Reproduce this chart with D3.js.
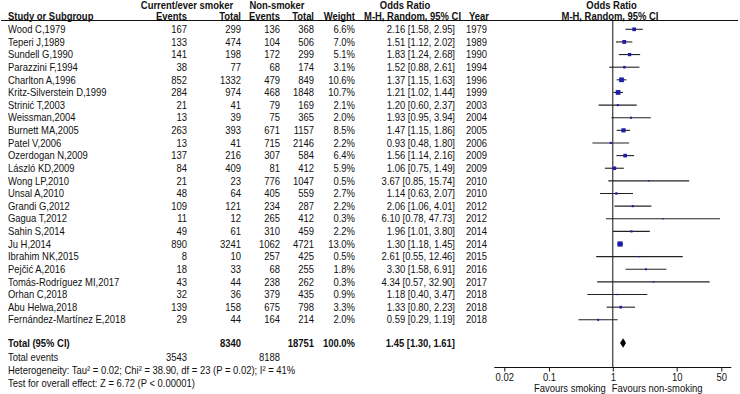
<!DOCTYPE html>
<html>
<head>
<meta charset="utf-8">
<script src="https://cdn.jsdelivr.net/npm/d3@7"></script>
<style>
  body { margin: 0; background: #fff; }
  text { font-family: "Liberation Sans", Arial, sans-serif; fill: #111; }
  .bold { font-weight: bold; }
</style>
</head>
<body>
<div id="forest"></div>
<script>
// Data
const studies = [
    "Wood C,1979", "Teperi J,1989", "Sundell G,1990", "Parazzini F,1994",
    "Charlton A,1996", "Kritz-Silverstein D,1999", "Strinić T,2003", "Weissman,2004",
    "Burnett MA,2005", "Patel V,2006", "Ozerdogan N,2009", "László KD,2009",
    "Wong LP,2010", "Unsal A,2010", "Grandi G,2012", "Gagua T,2012",
    "Sahin S,2014", "Ju H,2014", "Ibrahim NK,2015", "Pejčić A,2016",
    "Tomás-Rodríguez MI,2017", "Orhan C,2018", "Abu Helwa,2018", "Fernández-Martínez E,2018",
]
const smokerEvents = [167, 133, 141, 38, 852, 284, 21, 13, 263, 13, 137, 84, 21, 48, 109, 11, 49, 890, 8, 18, 43, 32, 139, 29]
const smokerTotal = [299, 474, 198, 77, 1332, 974, 41, 39, 393, 41, 216, 409, 23, 64, 121, 12, 61, 3241, 10, 33, 44, 36, 158, 44]
const nonEvents = [136, 104, 172, 68, 479, 468, 79, 75, 671, 715, 307, 81, 776, 405, 234, 265, 310, 1062, 257, 68, 238, 379, 675, 164]
const nonTotal = [368, 506, 299, 174, 849, 1848, 169, 365, 1157, 2146, 584, 412, 1047, 559, 287, 412, 459, 4721, 425, 255, 262, 435, 798, 214]
const weights = [6.6, 7.0, 5.1, 3.1, 10.6, 10.7, 2.1, 2.0, 8.5, 2.2, 6.4, 5.9, 0.5, 2.7, 2.2, 0.3, 2.2, 13.0, 0.5, 1.8, 0.3, 0.9, 3.3, 2.0]
const oddsRatio = [2.16, 1.51, 1.83, 1.52, 1.37, 1.21, 1.20, 1.93, 1.47, 0.93, 1.56, 1.06, 3.67, 1.14, 2.06, 6.10, 1.96, 1.30, 2.61, 3.30, 4.34, 1.18, 1.33, 0.59]
const ciLow = [1.58, 1.12, 1.24, 0.88, 1.15, 1.02, 0.60, 0.95, 1.15, 0.48, 1.14, 0.75, 0.85, 0.63, 1.06, 0.78, 1.01, 1.18, 0.55, 1.58, 0.57, 0.40, 0.80, 0.29]
const ciHigh = [2.95, 2.02, 2.68, 2.61, 1.63, 1.44, 2.37, 3.94, 1.86, 1.80, 2.16, 1.49, 15.74, 2.07, 4.01, 47.73, 3.80, 1.45, 12.46, 6.91, 32.90, 3.47, 2.23, 1.19]
const years = [1979, 1989, 1990, 1994, 1996, 1999, 2003, 2004, 2005, 2006, 2009, 2009, 2010, 2010, 2012, 2012, 2014, 2014, 2015, 2016, 2017, 2018, 2018, 2018]

const pooled = { or: 1.45, lo: 1.30, hi: 1.61 }
const totals = { smokerTotal: 8340, nonTotal: 18751, weight: "100.0%", smokerEvents: 3543, nonEvents: 8188 }
const axisTicks = [0.02, 0.1, 1, 10, 50]

function drawForest() {
    const width = 740
    const height = 394
    const squeeze = 0.9   // the source figure's text is horizontally narrow

    const svg = d3.select("#forest")
        .append("svg")
            .attr("width", width)
            .attr("height", height)
            .style("font-size", "10.5px")

    const rows = d3.range(studies.length)

    // Scales
    const yScale = d3.scalePoint()
        .domain(rows)
        .range([29.3, 319.8])

    const xScale = d3.scaleLog()
        .domain([0.02, 50])
        .range([504.3, 721.3])

    const sizeScale = d3.scaleSqrt()
        .domain([0, 13])
        .range([0, 5.2])

    const fmt2 = d3.format(".2f")

    // puts a narrow text at (x, y)
    const addText = (parent, x, y, anchor, txt, bold) => parent.append("text")
        .attr("transform", `translate(${x},${y}) scale(${squeeze},1)`)
        .attr("dy", "0.35em")
        .attr("text-anchor", anchor)
        .attr("class", bold ? "bold" : null)
        .text(txt)

  // Header
    const header = svg.append("g")
    addText(header, 187, 5.5, "middle", "Current/ever smoker", true)
    addText(header, 277, 5.5, "middle", "Non-smoker", true)
    addText(header, 405, 5.5, "middle", "Odds Ratio", true)
    addText(header, 611.5, 5.5, "middle", "Odds Ratio", true)
    addText(header, 8, 16, "start", "Study or Subgroup", true)
    addText(header, 187, 16, "end", "Events", true)
    addText(header, 241, 16, "end", "Total", true)
    addText(header, 280, 16, "end", "Events", true)
    addText(header, 314, 16, "end", "Total", true)
    addText(header, 355, 16, "end", "Weight", true)
    addText(header, 461, 16, "end", "M-H, Random, 95% CI", true)
    addText(header, 489, 16, "end", "Year", true)
    addText(header, 610, 16, "middle", "M-H, Random, 95% CI", true)

    svg.append("line")
        .attr("x1", 1).attr("x2", 738)
        .attr("y1", 20.5).attr("y2", 20.5)
        .attr("stroke", "#111")
        .attr("stroke-width", 1)

  // Table columns
    const columns = [
        { x: 8, anchor: "start", value: i => studies[i] },
        { x: 187, anchor: "end", value: i => smokerEvents[i] },
        { x: 241, anchor: "end", value: i => smokerTotal[i] },
        { x: 280, anchor: "end", value: i => nonEvents[i] },
        { x: 314, anchor: "end", value: i => nonTotal[i] },
        { x: 355, anchor: "end", value: i => weights[i].toFixed(1) + "%" },
        { x: 455, anchor: "end", value: i => `${fmt2(oddsRatio[i])} [${fmt2(ciLow[i])}, ${fmt2(ciHigh[i])}]` },
        { x: 487, anchor: "end", value: i => years[i] },
    ]

    const table = svg.append("g")
    columns.forEach(col => {
        table.append("g")
            .selectAll("text")
            .data(rows)
            .join("text")
                .attr("transform", d => `translate(${col.x},${yScale(d)}) scale(${squeeze},1)`)
                .attr("dy", "0.35em")
                .attr("text-anchor", col.anchor)
                .text(col.value)
    })

  // Totals
    const yTotal = 343.5
    const summary = svg.append("g")
    addText(summary, 8, yTotal, "start", "Total (95% CI)", true)
    addText(summary, 241, yTotal, "end", totals.smokerTotal, true)
    addText(summary, 314, yTotal, "end", totals.nonTotal, true)
    addText(summary, 355, yTotal, "end", totals.weight, true)
    addText(summary, 455, yTotal, "end", `${fmt2(pooled.or)} [${fmt2(pooled.lo)}, ${fmt2(pooled.hi)}]`, true)
    addText(summary, 8, 357.5, "start", "Total events")
    addText(summary, 187, 357.5, "end", totals.smokerEvents)
    addText(summary, 280, 357.5, "end", totals.nonEvents)
    addText(summary, 8, 370.5, "start", "Heterogeneity: Tau² = 0.02; Chi² = 38.90, df = 23 (P = 0.02); I² = 41%")
    addText(summary, 8, 383, "start", "Test for overall effect: Z = 6.72 (P < 0.00001)")

  // Plot
    const axisY = 367.5
    const plot = svg.append("g")

    plot.append("line")
        .attr("x1", xScale(1)).attr("x2", xScale(1))
        .attr("y1", 20.5).attr("y2", axisY)
        .attr("stroke", "#111")

    plot.append("g")
        .selectAll("line")
        .data(rows)
        .join("line")
            .attr("x1", d => xScale(ciLow[d]))
            .attr("x2", d => xScale(ciHigh[d]))
            .attr("y1", d => yScale(d))
            .attr("y2", d => yScale(d))
            .attr("stroke", "#222")
            .attr("stroke-width", 1.1)

    plot.append("g")
        .selectAll("rect")
        .data(rows)
        .join("rect")
            .attr("x", d => xScale(oddsRatio[d]) - Math.max(1.4, sizeScale(weights[d])) / 2)
            .attr("y", d => yScale(d) - Math.max(1.4, sizeScale(weights[d])) / 2)
            .attr("width", d => Math.max(1.4, sizeScale(weights[d])))
            .attr("height", d => Math.max(1.4, sizeScale(weights[d])))
            .attr("fill", "#1c1ca8")

    const dh = 4.8
    plot.append("path")
        .attr("d", `M${xScale(pooled.lo)},${yTotal - 0.5} L${xScale(pooled.or)},${yTotal - 0.5 - dh} L${xScale(pooled.hi)},${yTotal - 0.5} L${xScale(pooled.or)},${yTotal - 0.5 + dh} Z`)
        .attr("fill", "#000")

  // Axis
    const axisGenerator = d3.axisBottom(xScale)
        .tickValues(axisTicks)
        .tickFormat(d => d)
        .tickSize(4)
        .tickSizeOuter(0)
    const axis = plot.append("g")
        .attr("transform", `translate(0, ${axisY})`)
        .call(axisGenerator)
    axis.select(".domain").remove()
    axis.selectAll(".tick text")
        .attr("y", null)
        .attr("transform", `translate(0,9.5) scale(${squeeze},1)`)
        .attr("dy", "0.35em")
        .style("font-size", "10.5px")
        .style("font-family", "'Liberation Sans', Arial, sans-serif")
        .attr("fill", "#111")
    axis.selectAll(".tick line").attr("stroke", "#111")
    axis.append("line")
        .attr("x1", xScale.range()[0] - 10)
        .attr("x2", xScale.range()[1] + 10)
        .attr("stroke", "#111")

    addText(plot, xScale(1) - 7, 388.3, "end", "Favours smoking")
    addText(plot, xScale(1) - 1, 388.3, "start", "Favours non-smoking")
}

drawForest()
</script>
</body>
</html>
